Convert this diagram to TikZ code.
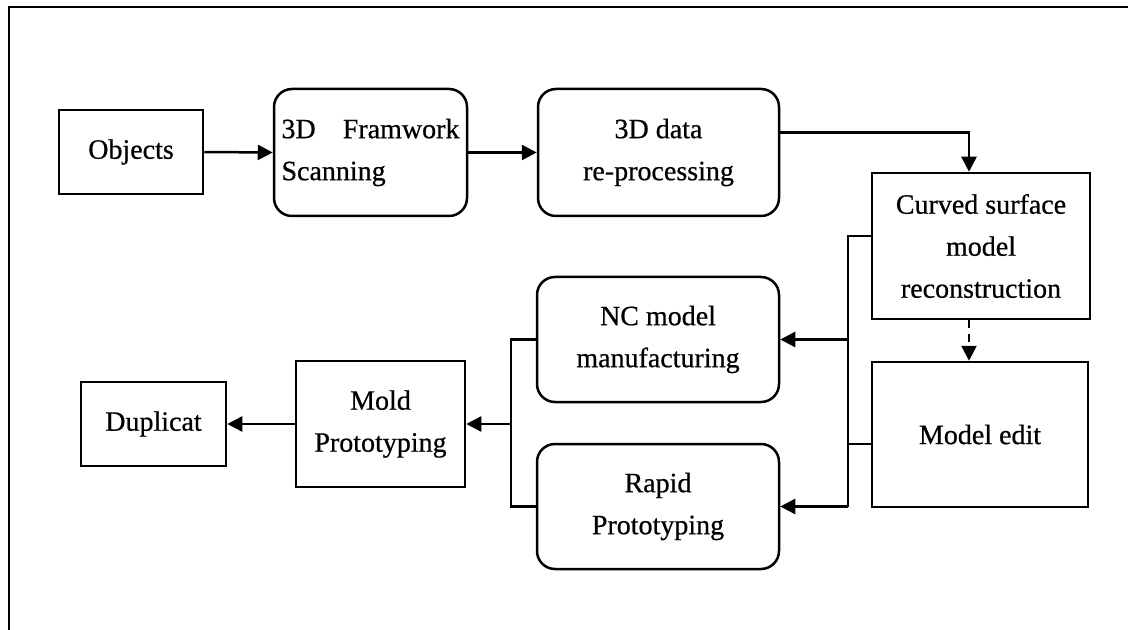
\documentclass[tikz,border=0pt]{standalone}
\usepackage{fontspec}
\setmainfont{Liberation Serif}[BoldFont={Liberation Serif},BoldFeatures={FakeBold=0.6}]
\usetikzlibrary{arrows.meta,calc}
\begin{document}
\begin{tikzpicture}[x=0.5pt,y=-0.5pt,
  every node/.style={font=\fontsize{14}{21}\selectfont\bfseries},
  sqbox/.style={draw,line width=1.25pt,align=center,inner sep=0pt},
  rndbox/.style={sqbox,rounded corners=9pt},
  wire/.style={line width=1.25pt},
  arr/.style={wire,-{Triangle[length=7.5pt,width=7.5pt]}}]
\fill[white] (0,0) rectangle (1128,630);
\useasboundingbox (0,0) rectangle (1128,630);
% frame
\draw[line width=1.1pt] (9,630) -- (9,7) -- (1128,7);

% process steps
\node[sqbox, minimum width=72pt, minimum height=42pt] (obj) at (131,152) {Objects};
\node[rndbox, minimum width=96.5pt, minimum height=63.5pt, text width=89pt, align=left] (scan) at (370.5,152.5) {3D\hfill Framwork\\Scanning};
\node[rndbox, minimum width=120.5pt, minimum height=63.5pt] (data) at (658.5,152.5) {3D data\\re-processing};
\node[sqbox, minimum width=109pt, minimum height=73pt] (curv) at (981,246) {Curved surface\\model\\reconstruction};
\node[sqbox, minimum width=108pt, minimum height=72.5pt] (medit) at (980,434.5) {Model edit};
\node[rndbox, minimum width=121pt, minimum height=62.5pt] (nc) at (658,339.5) {NC model\\manufacturing};
\node[rndbox, minimum width=121pt, minimum height=62.5pt] (rapid) at (658,506.5) {Rapid\\Prototyping};
\node[sqbox, minimum width=84.5pt, minimum height=63pt] (mold) at (380.5,424) {Mold\\Prototyping};
\node[sqbox, minimum width=72.5pt, minimum height=42pt] (dup) at (153.5,424) {Duplicat};

% top row
\draw[arr] (obj.east) -- (scan.west);
\draw[arr] (scan.east) -- (data.west);
\coordinate (cin) at ([xshift=-6pt]curv.north);
\draw[arr] ([yshift=10pt]data.east) -| (cin);
\coordinate (dtop) at ([xshift=-6pt]curv.south);
\draw[arr, dash pattern=on 4pt off 3pt] (dtop) -- (dtop |- medit.north);

% right bus
\coordinate (rbus) at (848,340);
\coordinate (ctie) at ([yshift=5pt]curv.west);
\coordinate (mtie) at ([yshift=-4.75pt]medit.west);
\draw[wire] (ctie) -| (rbus |- rapid.east);
\draw[wire] (mtie) -| (rbus);
\draw[arr] (rbus |- nc.east) -- (nc.east);
\draw[arr] (rbus |- rapid.east) -- (rapid.east);

% left bus
\coordinate (lbus) at (511,424);
\draw[wire] (nc.west) -| (lbus |- rapid.west) -- (rapid.west);
\draw[arr] (lbus) -- (mold.east);
\draw[arr] (mold.west) -- (dup.east);
\end{tikzpicture}
\end{document}
